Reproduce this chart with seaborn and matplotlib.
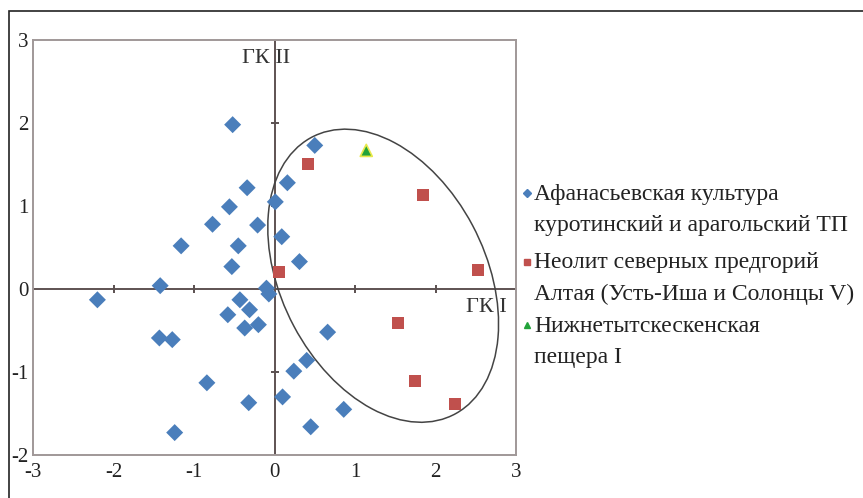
import matplotlib
matplotlib.use("Agg")
import numpy as np
import pandas as pd
import seaborn as sns
import matplotlib.pyplot as plt
from matplotlib.patches import Ellipse, Rectangle
from matplotlib.lines import Line2D

# данные (ГК I, ГК II)
afan_x = [-0.52, 0.50, 0.16, -0.34, 0.01, -0.56, -0.77, -0.21, 0.09, -1.16,
          -0.45, 0.31, -0.53, -1.42, -2.20, -0.10, -0.07, -0.43, -0.31, -0.58,
          -0.20, -0.37, -1.43, -1.27, 0.66, 0.40, 0.24, -0.84, 0.10, -0.32,
          0.86, 0.45, -1.24]
afan_y = [1.98, 1.73, 1.28, 1.22, 1.05, 0.99, 0.78, 0.77, 0.63, 0.52,
          0.52, 0.33, 0.27, 0.04, -0.13, 0.01, -0.06, -0.13, -0.25, -0.31,
          -0.43, -0.47, -0.59, -0.61, -0.52, -0.86, -0.99, -1.13, -1.30, -1.37,
          -1.45, -1.66, -1.73]
neol_x = [0.42, 1.84, 0.06, 2.53, 1.54, 1.75, 2.24]
neol_y = [1.51, 1.13, 0.21, 0.23, -0.41, -1.11, -1.38]
cave_x = [1.14]
cave_y = [1.67]

labels = ["Афанасьевская культура\nкуротинский и арагольский ТП",
          "Неолит северных предгорий\nАлтая (Усть-Иша и Солонцы V)",
          "Нижнетытскескенская\nпещера I"]
colors = ["#4a7ebb", "#c0504d", "#22a33a"]
markers = ["D", "s", "^"]

x_ticks = [-3, -2, -1, 0, 1, 2, 3]
y_ticks = [-2, -1, 0, 1, 2, 3]

# эллипс
ell_center = (1.35, 0.16)
ell_width = 3.78
ell_height = 2.53
ell_angle = 118.7

df = pd.DataFrame({
    "x": afan_x + neol_x + cave_x,
    "y": afan_y + neol_y + cave_y,
    "group": [labels[0]] * len(afan_x) + [labels[1]] * len(neol_x) + [labels[2]] * len(cave_x),
})

sns.set_style("white")
plt.rcParams["font.family"] = ["Liberation Serif", "DejaVu Serif"]

fig = plt.figure(figsize=(8.63, 4.98), dpi=100)
ax = fig.add_axes([33 / 863, 43 / 498, (516 - 33) / 863, (455 - 40) / 498])

# рамка
fig.patches.append(Rectangle((9 / 863, -0.1), 1.2, (498 - 11) / 498 + 0.1, transform=fig.transFigure,
                             fill=False, edgecolor="#222222", linewidth=1.2))

ax.axhline(0, color="#5e5252", linewidth=1.4, zorder=1)
ax.axvline(0, color="#5e5252", linewidth=1.4, zorder=1)
ax.plot([k for k in x_ticks if k not in (-3, 0, 3)], [0] * 4, linestyle="none", marker="|",
        markersize=6, color="#5a5050", markeredgewidth=1.4, zorder=1)
ax.plot([0] * 3, [k for k in y_ticks if k not in (-2, 0, 3)], linestyle="none", marker="_",
        markersize=6, color="#5a5050", markeredgewidth=1.4, zorder=1)

ax.add_patch(Ellipse(ell_center, ell_width, ell_height, angle=ell_angle, fill=False,
                     edgecolor="#444444", linewidth=1.1, zorder=2))

sns.scatterplot(data=df, x="x", y="y", hue="group", style="group",
                palette=dict(zip(labels, colors)), markers=dict(zip(labels, markers)),
                s=75, linewidth=0, legend=False, ax=ax, zorder=3)
ax.collections[-1].set_edgecolors(["none"] * (len(afan_x) + len(neol_x)) + ["#e8e84a"])
ax.collections[-1].set_linewidths([0] * (len(afan_x) + len(neol_x)) + [1.2])

ax.set_xlim(-3, 3)
ax.set_ylim(-2, 3)
ax.set_xticks(x_ticks)
ax.set_yticks(y_ticks)
ax.set_xticklabels([str(t) for t in x_ticks])
ax.set_yticklabels([str(t) for t in y_ticks])
ax.tick_params(length=0, labelsize=15, colors="#222222")
ax.tick_params(axis="x", pad=6)
ax.tick_params(axis="y", pad=3)
ax.set_xlabel("")
ax.set_ylabel("")
for sp in ax.spines.values():
    sp.set_color("#a09898")
    sp.set_linewidth(1.4)

ax.text(-0.1, 2.78, "ГК II", ha="center", va="center", fontsize=16, color="#333333", zorder=0)
ax.text(2.89, -0.22, "ГК I", ha="right", va="center", fontsize=16, color="#333333")

# легенда
leg_y = [193, 262, 325]
for lab, col, mk, yy in zip(labels, colors, markers, leg_y):
    fig.add_artist(Line2D([527 / 863], [1 - yy / 498], transform=fig.transFigure, marker=mk,
                          color=col, markersize=4, linestyle="none"))
    fig.text(534 / 863, 1 - (yy + 38) / 498, lab, ha="left", va="baseline", fontsize=17,
             linespacing=1.65, color="#222222")

fig.savefig("out.png", dpi=100)
